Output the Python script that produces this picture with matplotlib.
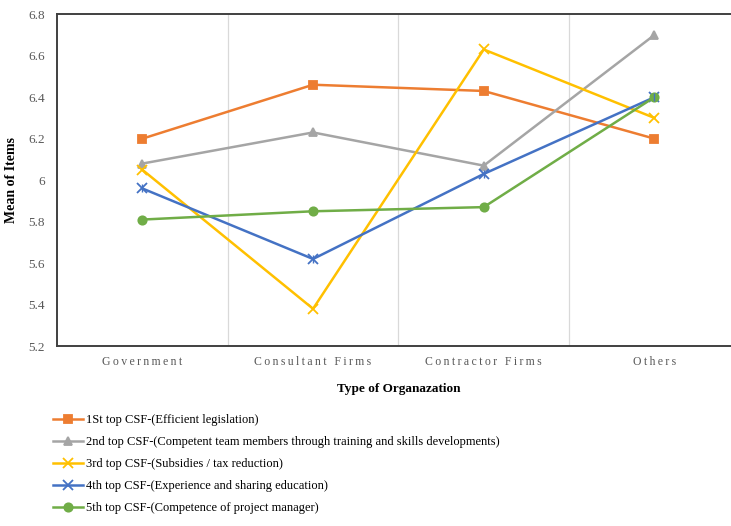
import matplotlib.pyplot as plt
from matplotlib.ticker import FixedLocator, FuncFormatter

# =====================================================
# DATA
# =====================================================

categories = ["Government", "Consultant Firms", "Contractor Firms", "Others"]

csf_1 = [6.20, 6.46, 6.43, 6.20]
csf_2 = [6.08, 6.23, 6.07, 6.70]
csf_3 = [6.05, 5.38, 6.63, 6.30]
csf_4 = [5.96, 5.62, 6.03, 6.40]
csf_5 = [5.81, 5.85, 5.87, 6.40]

labels = [
    "1St top CSF-(Efficient legislation)",
    "2nd top CSF-(Competent team members through training and skills developments)",
    "3rd top CSF-(Subsidies / tax reduction)",
    "4th top CSF-(Experience and sharing education)",
    "5th top CSF-(Competence of project manager)",
]

y_ticks = [5.2, 5.4, 5.6, 5.8, 6.0, 6.2, 6.4, 6.6, 6.8]

# =====================================================
# STYLE
# =====================================================

plt.rcParams['font.family'] = ['Liberation Serif', 'DejaVu Serif']

colors = ["#ED7D31", "#A5A5A5", "#FFC000", "#4472C4", "#70AD47"]
markers = ["s", "^", "x", "x", "o"]

# =====================================================
# FIGURE
# =====================================================

fig = plt.figure(figsize=(7.31, 5.26), dpi=100)
ax = fig.add_axes([0.078, 0.342, 0.934, 0.631])

x = list(range(len(categories)))
series = [csf_1, csf_2, csf_3, csf_4, csf_5]

for vals, lab, col, mk in zip(series, labels, colors, markers):
    ms = 7 if mk in ("x",) else 6
    ax.plot(x, vals, color=col, marker=mk, markersize=ms,
            markeredgewidth=1.3, linewidth=1.8, label=lab)

# 4th series: add vertical stroke to make it an asterisk
ax.plot(x, csf_4, linestyle="none", marker="|", markersize=6,
        color=colors[3], markeredgewidth=1.0)

ax.set_xlim(-0.5, 3.5)
ax.set_ylim(5.2, 6.8)

ax.yaxis.set_major_locator(FixedLocator(y_ticks))
ax.yaxis.set_major_formatter(FuncFormatter(lambda v, p: f"{v:g}"))

ax.set_xticks(x)
ax.set_xticklabels(["\u2009".join(c) for c in categories])
ax.xaxis.set_minor_locator(FixedLocator([0.5, 1.5, 2.5]))
ax.grid(which="minor", axis="x", color="#D9D9D9", linewidth=0.9)
ax.tick_params(which="both", length=0)
ax.tick_params(axis="y", labelsize=9.5, labelcolor="#595959", pad=9)
ax.tick_params(axis="x", labelsize=8.5, labelcolor="#595959", pad=7)

for side in ["left", "top", "bottom"]:
    ax.spines[side].set_color("#404040")
    ax.spines[side].set_linewidth(1.4)
ax.spines["right"].set_visible(False)

ax.set_ylabel("Mean of Items", fontsize=10, fontweight="bold", labelpad=7)
ax.set_xlabel("Type of Organazation", fontsize=9.5, fontweight="bold",
              labelpad=11)

# legend below the chart
handles, leg_labels = ax.get_legend_handles_labels()
fig.legend(handles, leg_labels, loc="upper left",
           bbox_to_anchor=(0.066, 0.222), frameon=False,
           fontsize=9, handlelength=2.4, handletextpad=0.25,
           labelspacing=0.8, borderaxespad=0)

fig.savefig("out.png", dpi=100)
